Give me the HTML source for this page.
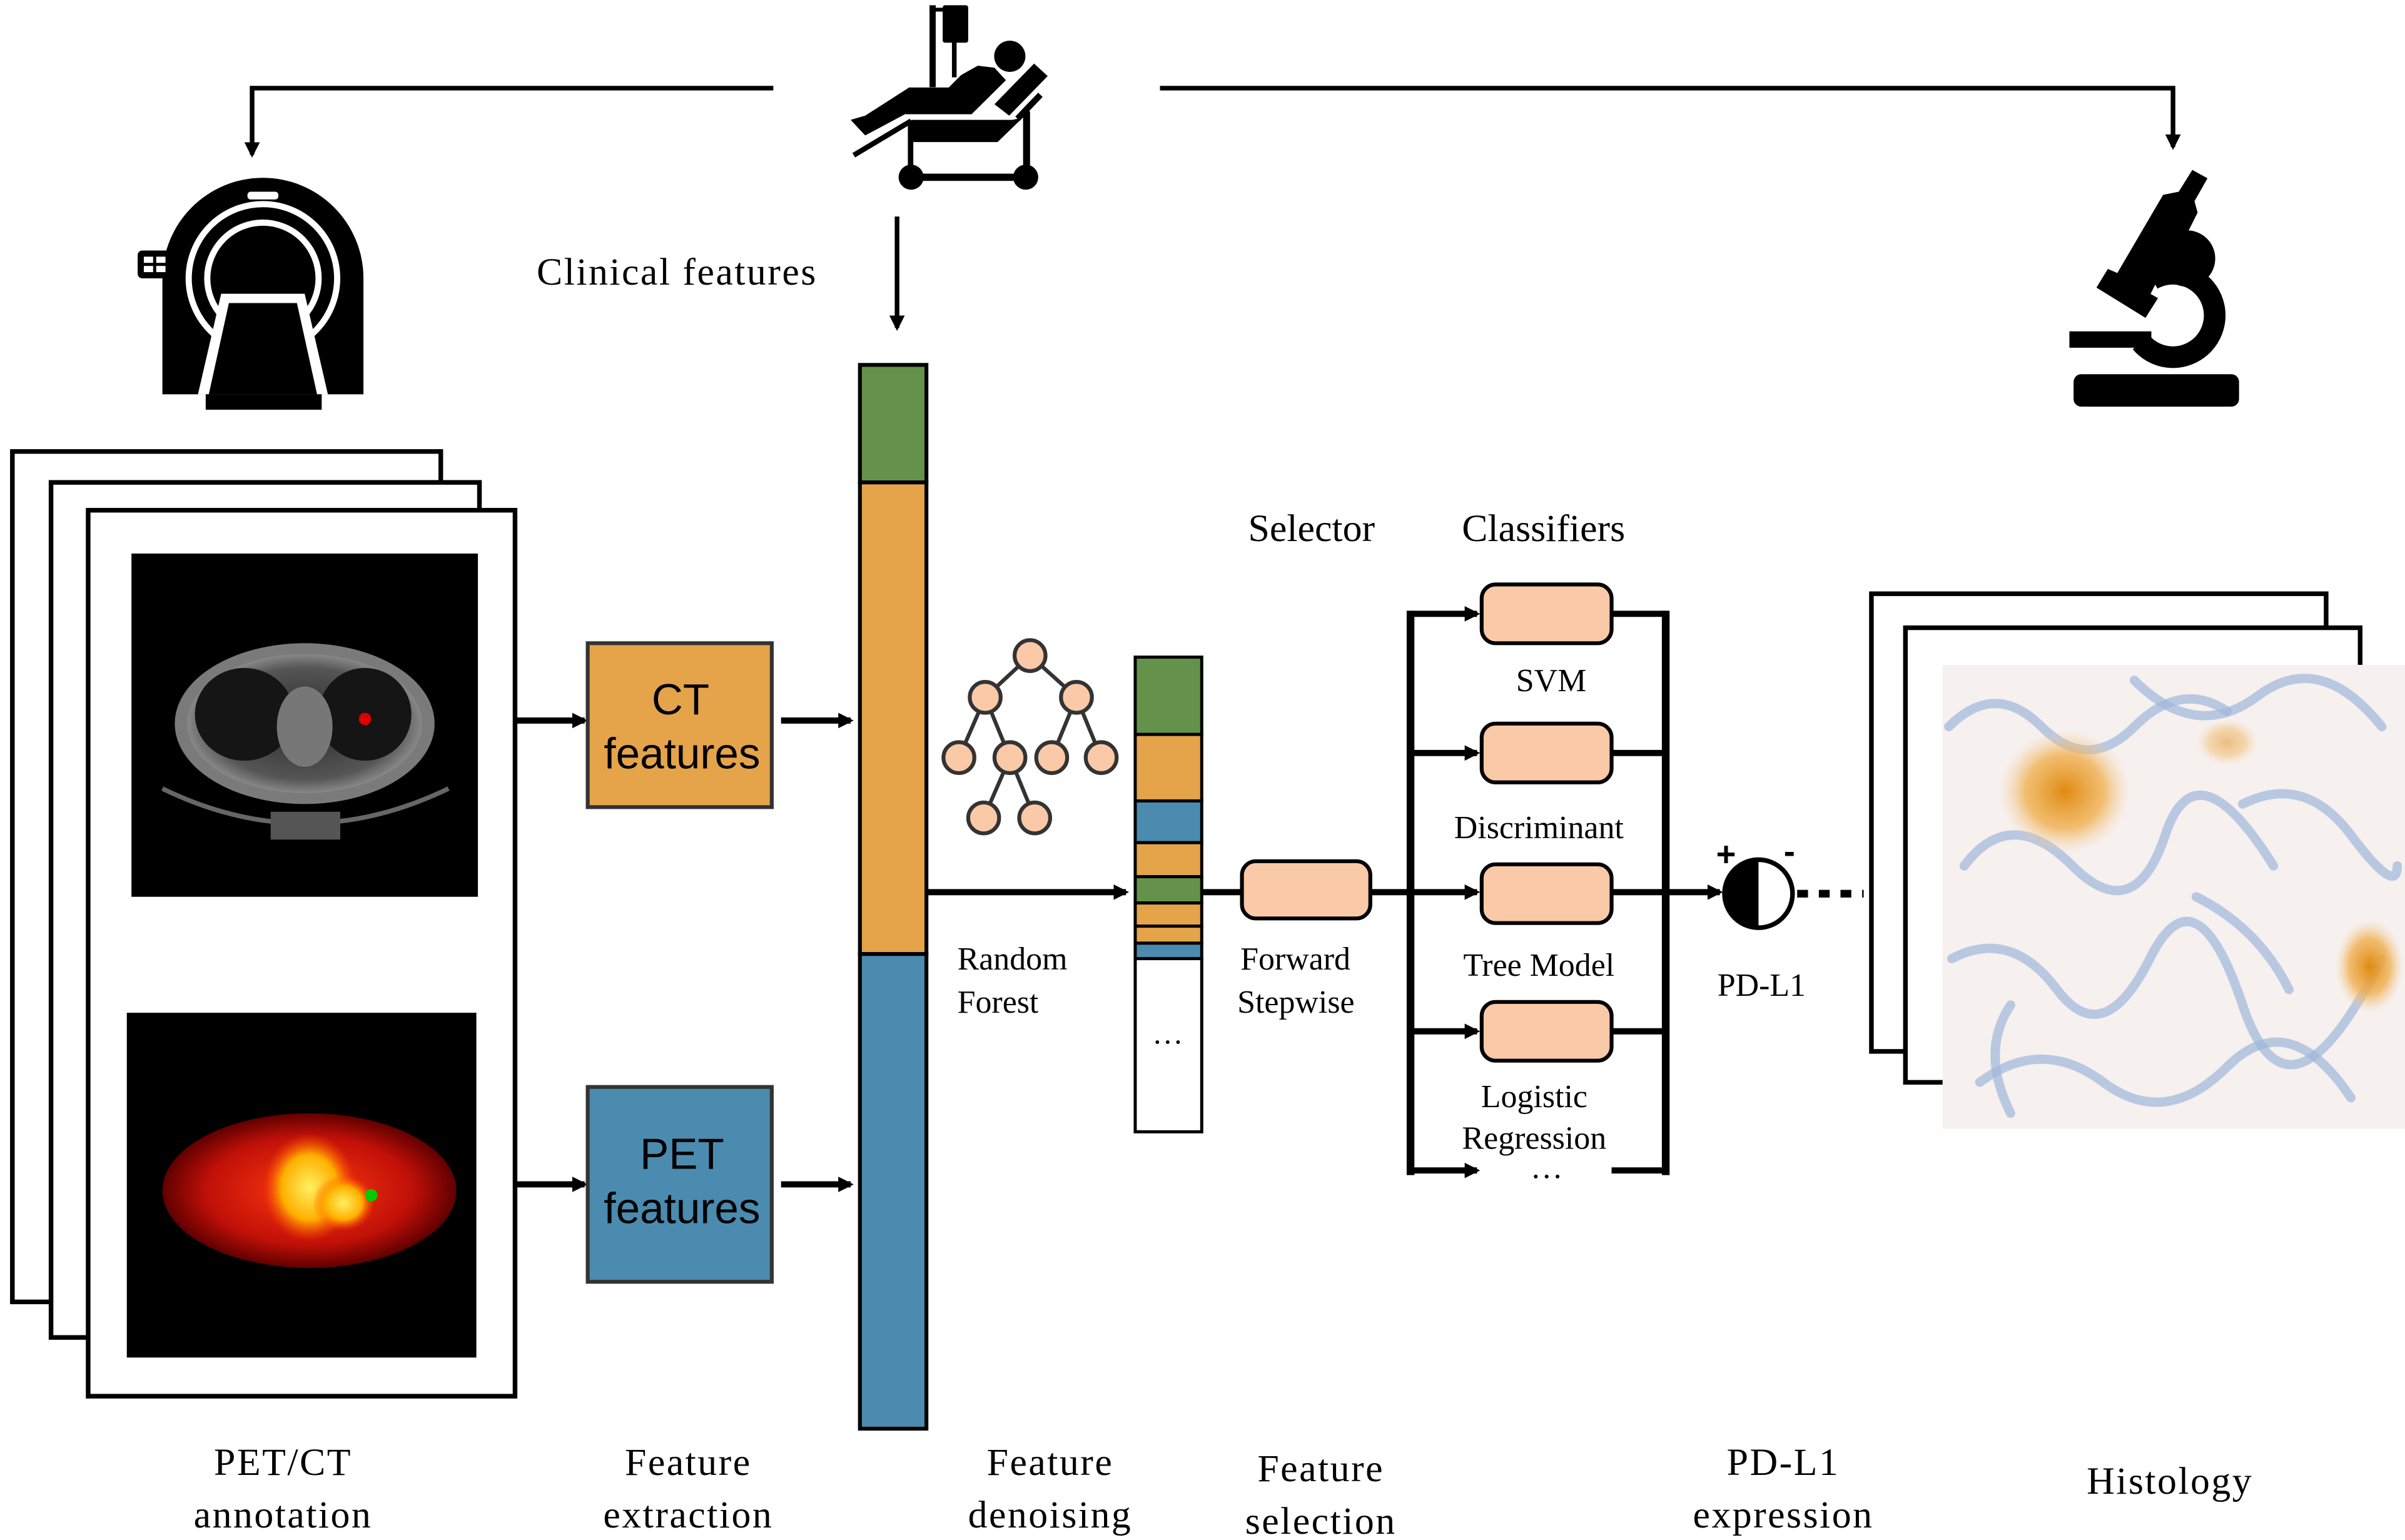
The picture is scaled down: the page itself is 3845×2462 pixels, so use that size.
<!DOCTYPE html>
<html><head><meta charset="utf-8"><style>
html,body{margin:0;padding:0;background:#fff;}
svg{display:block;}
.serif{font-family:"Liberation Serif",serif;}
.sans{font-family:"Liberation Sans",sans-serif;}
</style></head><body>
<svg width="3845" height="2462" viewBox="0 0 1555 996" preserveAspectRatio="none" xmlns="http://www.w3.org/2000/svg">
<defs>
<marker id="ah" markerWidth="10" markerHeight="10" refX="8" refY="5" orient="auto" markerUnits="userSpaceOnUse"><path d="M0,0 L10,5 L0,10 z" fill="#000"/></marker>
<radialGradient id="pet" cx="50%" cy="50%" r="50%"><stop offset="0" stop-color="#ff3a10"/><stop offset="0.7" stop-color="#c01008"/><stop offset="1" stop-color="#600000"/></radialGradient>
<radialGradient id="yel" cx="50%" cy="50%" r="50%"><stop offset="0" stop-color="#fff060"/><stop offset="0.6" stop-color="#ffb000"/><stop offset="1" stop-color="#ff5000" stop-opacity="0"/></radialGradient>
<radialGradient id="org" cx="50%" cy="50%" r="50%"><stop offset="0" stop-color="#e08a10"/><stop offset="0.6" stop-color="#f0b050" stop-opacity="0.8"/><stop offset="1" stop-color="#f5d0a0" stop-opacity="0"/></radialGradient>
<radialGradient id="ct" cx="50%" cy="50%" r="50%"><stop offset="0" stop-color="#2a2a2a"/><stop offset="0.8" stop-color="#555"/><stop offset="1" stop-color="#888"/></radialGradient>
</defs>
<rect width="1555" height="996" fill="#fff"/>

<!-- top arrows -->
<polyline points="500,57 163,57 163,100" fill="none" stroke="#000" stroke-width="3" marker-end="url(#ah)"/>
<polyline points="750,57 1405,57 1405,95" fill="none" stroke="#000" stroke-width="3" marker-end="url(#ah)"/>
<line x1="580" y1="140" x2="580" y2="212" stroke="#000" stroke-width="3" marker-end="url(#ah)"/>
<text x="347" y="184" class="serif" font-size="25" letter-spacing="1">Clinical features</text>

<!-- patient icon -->
<g fill="#000" stroke="none">
<rect x="601" y="3.4" width="4" height="53"/>
<rect x="603" y="5" width="8" height="2.5"/>
<rect x="609.5" y="3.4" width="16.5" height="24.2" rx="1.5"/>
<rect x="615.5" y="27" width="3" height="23"/>
<circle cx="652.9" cy="36.4" r="10.1"/>
<polygon points="550,77.5 559.4,87.6 585.1,73.9 628.2,73.9 650.4,51.9 643,43.8 632.2,42.5 621.5,48.5 613.4,56.6 587.8,56.6 559.4,74.8"/>
<polygon points="643,67.4 668.6,41.1 677.4,49.2 652.5,74.8"/>
<polygon points="589.1,77.5 654.5,77.5 661.2,76.2 645,91.9 590.4,91.9 587.1,82.9"/>
<line x1="552" y1="100.4" x2="589.1" y2="78.2" stroke="#000" stroke-width="3.4"/>
<line x1="657.9" y1="76.8" x2="672.7" y2="61.3" stroke="#000" stroke-width="4"/>
<rect x="587" y="80.9" width="3.5" height="30"/>
<rect x="661.5" y="72" width="4.5" height="39"/>
<rect x="589" y="112.3" width="74" height="4.7"/>
<circle cx="589.1" cy="114.6" r="8.1"/>
<circle cx="663.2" cy="114.6" r="8.1"/>
</g>

<!-- scanner icon -->
<g>
<path d="M105,255 L105,180 A65,65 0 0 1 235,180 L235,255 Z" fill="#000"/>
<circle cx="170" cy="180" r="48" fill="none" stroke="#fff" stroke-width="4"/>
<circle cx="170" cy="180" r="36" fill="none" stroke="#fff" stroke-width="4"/>
<path d="M143,190 L197,190 L212,255 L128,255 Z" fill="#fff"/>
<path d="M148,196 L192,196 L205,255 L135,255 Z" fill="#000"/>
<rect x="133" y="255" width="75" height="10" fill="#000"/>
<rect x="160" y="124" width="20" height="5" rx="2" fill="#fff"/>
<rect x="89" y="162" width="24" height="18" rx="3" fill="#000"/>
<rect x="93" y="166" width="6" height="4" fill="#fff"/><rect x="101" y="166" width="6" height="4" fill="#fff"/>
<rect x="93" y="172" width="6" height="4" fill="#fff"/><rect x="101" y="172" width="6" height="4" fill="#fff"/>
</g>

<!-- microscope -->
<g fill="#000">
<rect x="1340.7" y="242" width="107" height="21" rx="5"/>
<rect x="1338" y="214.3" width="53" height="10.6"/>
<path d="M1391.5,180.6 A27,27 0 1 1 1384.3,221.4" fill="none" stroke="#000" stroke-width="14"/>
<circle cx="1414.1" cy="167.2" r="18.2"/>
<polygon points="1355.5,186 1362.9,173.9 1369,176.6 1398.6,126 1408.7,124 1417.5,109.9 1427.3,115.3 1418.9,130.1 1420.9,137.5 1415.5,148.3 1396.6,177.9 1390.5,190.1 1395.3,192.8 1387.2,205.6"/>
</g>

<!-- PET/CT frames -->
<rect x="8" y="292" width="277" height="550" fill="#fff" stroke="#000" stroke-width="3"/>
<rect x="33" y="312" width="277" height="553" fill="#fff" stroke="#000" stroke-width="3"/>
<rect x="57" y="330" width="276" height="573" fill="#fff" stroke="#000" stroke-width="3"/>
<rect x="85" y="358" width="224" height="222" fill="#000"/>
<ellipse cx="197" cy="468" rx="84" ry="52" fill="#7a7a7a"/>
<ellipse cx="197" cy="468" rx="76" ry="45" fill="url(#ct)"/>
<ellipse cx="158" cy="462" rx="32" ry="30" fill="#151515"/>
<ellipse cx="236" cy="462" rx="30" ry="30" fill="#151515"/>
<ellipse cx="197" cy="470" rx="18" ry="26" fill="#777"/>
<circle cx="236" cy="465" r="4" fill="#d00"/>
<path d="M105,510 Q197,555 290,510" fill="none" stroke="#666" stroke-width="3"/>
<rect x="175" y="525" width="45" height="18" fill="#555"/>
<rect x="82" y="655" width="226" height="223" fill="#000"/>
<ellipse cx="200" cy="770" rx="95" ry="50" fill="url(#pet)"/>
<ellipse cx="200" cy="768" rx="30" ry="35" fill="url(#yel)"/>
<ellipse cx="222" cy="778" rx="20" ry="18" fill="url(#yel)"/>
<circle cx="240" cy="773" r="4" fill="#0c0"/>

<!-- feature boxes -->
<line x1="333" y1="466" x2="378" y2="466" stroke="#000" stroke-width="4" marker-end="url(#ah)"/>
<rect x="380" y="416" width="119" height="106" fill="#E5A44A" stroke="#333" stroke-width="2.5"/>
<text x="440" y="462" text-anchor="middle" class="sans" font-size="28">CT</text>
<text x="441" y="497" text-anchor="middle" class="sans" font-size="28">features</text>
<line x1="505" y1="466" x2="550" y2="466" stroke="#000" stroke-width="4" marker-end="url(#ah)"/>
<line x1="333" y1="766" x2="378" y2="766" stroke="#000" stroke-width="4" marker-end="url(#ah)"/>
<rect x="380" y="703" width="119" height="126" fill="#4A8BAF" stroke="#333" stroke-width="2.5"/>
<text x="441" y="756" text-anchor="middle" class="sans" font-size="28">PET</text>
<text x="441" y="791" text-anchor="middle" class="sans" font-size="28">features</text>
<line x1="505" y1="766" x2="550" y2="766" stroke="#000" stroke-width="4" marker-end="url(#ah)"/>

<!-- big column -->
<rect x="556" y="236" width="43" height="76" fill="#64924A" stroke="#000" stroke-width="2.5"/>
<rect x="556" y="312" width="43" height="305" fill="#E5A44A" stroke="#000" stroke-width="2.5"/>
<rect x="556" y="617" width="43" height="307" fill="#4A8BAF" stroke="#000" stroke-width="2.5"/>
<line x1="599" y1="577" x2="728" y2="577" stroke="#000" stroke-width="4" marker-end="url(#ah)"/>

<!-- tree -->
<g stroke="#333" stroke-width="2.5" fill="#F9C9A8">
<line x1="666" y1="424" x2="637" y2="451"/><line x1="666" y1="424" x2="696" y2="451"/>
<line x1="637" y1="451" x2="620" y2="490"/><line x1="637" y1="451" x2="653" y2="490"/>
<line x1="696" y1="451" x2="680" y2="490"/><line x1="696" y1="451" x2="712" y2="490"/>
<line x1="653" y1="490" x2="636" y2="529"/><line x1="653" y1="490" x2="669" y2="529"/>
<circle cx="666" cy="424" r="10"/><circle cx="637" cy="451" r="10"/><circle cx="696" cy="451" r="10"/>
<circle cx="620" cy="490" r="10"/><circle cx="653" cy="490" r="10"/><circle cx="680" cy="490" r="10"/><circle cx="712" cy="490" r="10"/>
<circle cx="636" cy="529" r="10"/><circle cx="669" cy="529" r="10"/>
</g>
<text x="619" y="627" class="serif" font-size="21">Random</text>
<text x="619" y="655" class="serif" font-size="21">Forest</text>

<!-- small column -->
<g stroke="#000" stroke-width="2">
<rect x="734" y="425" width="43" height="50" fill="#64924A"/>
<rect x="734" y="475" width="43" height="43" fill="#E5A44A"/>
<rect x="734" y="518" width="43" height="27" fill="#4A8BAF"/>
<rect x="734" y="545" width="43" height="22" fill="#E5A44A"/>
<rect x="734" y="567" width="43" height="17" fill="#64924A"/>
<rect x="734" y="584" width="43" height="15" fill="#E5A44A"/>
<rect x="734" y="599" width="43" height="11" fill="#E5A44A"/>
<rect x="734" y="610" width="43" height="10" fill="#4A8BAF"/>
<rect x="734" y="620" width="43" height="112" fill="#fff"/>
</g>
<text x="755" y="675" text-anchor="middle" class="serif" font-size="20">…</text>

<line x1="777" y1="577" x2="803" y2="577" stroke="#000" stroke-width="4"/>
<rect x="803" y="557" width="83" height="37" rx="9" fill="#F9C9A8" stroke="#000" stroke-width="2.5"/>
<text x="802" y="627" class="serif" font-size="21">Forward</text>
<text x="800" y="655" class="serif" font-size="21">Stepwise</text>
<line x1="886" y1="577" x2="912" y2="577" stroke="#000" stroke-width="4"/>

<text x="848" y="350" text-anchor="middle" class="serif" font-size="25">Selector</text>
<text x="998" y="350" text-anchor="middle" class="serif" font-size="25">Classifiers</text>

<!-- classifiers -->
<line x1="912" y1="395" x2="912" y2="760" stroke="#000" stroke-width="5"/>
<line x1="1077" y1="395" x2="1077" y2="760" stroke="#000" stroke-width="5"/>
<g stroke="#000" stroke-width="4">
<line x1="912" y1="397" x2="955" y2="397" marker-end="url(#ah)"/>
<line x1="912" y1="487" x2="955" y2="487" marker-end="url(#ah)"/>
<line x1="912" y1="577" x2="955" y2="577" marker-end="url(#ah)"/>
<line x1="912" y1="667" x2="955" y2="667" marker-end="url(#ah)"/>
<line x1="912" y1="757" x2="955" y2="757" marker-end="url(#ah)"/>
<line x1="1042" y1="397" x2="1077" y2="397"/>
<line x1="1042" y1="487" x2="1077" y2="487"/>
<line x1="1042" y1="577" x2="1077" y2="577"/>
<line x1="1042" y1="667" x2="1077" y2="667"/>
<line x1="1042" y1="757" x2="1077" y2="757"/>
</g>
<g fill="#F9C9A8" stroke="#000" stroke-width="2.5">
<rect x="958" y="378" width="84" height="38" rx="9"/>
<rect x="958" y="468" width="84" height="38" rx="9"/>
<rect x="958" y="559" width="84" height="38" rx="9"/>
<rect x="958" y="648" width="84" height="38" rx="9"/>
</g>
<g class="serif" font-size="21" text-anchor="middle">
<text x="1003" y="447">SVM</text>
<text x="995" y="542">Discriminant</text>
<text x="995" y="631">Tree Model</text>
<text x="992" y="716">Logistic</text>
<text x="992" y="743">Regression</text>
<text x="1000" y="762">…</text>
</g>

<!-- PD-L1 -->
<line x1="1077" y1="577" x2="1112" y2="577" stroke="#000" stroke-width="4" marker-end="url(#ah)"/>
<circle cx="1137" cy="578" r="22" fill="#fff" stroke="#000" stroke-width="3"/>
<path d="M1137,556 A22,22 0 0 0 1137,600 Z" fill="#000"/>
<text x="1116" y="560" text-anchor="middle" class="sans" font-size="22" font-weight="bold">+</text>
<text x="1157" y="558" text-anchor="middle" class="sans" font-size="22" font-weight="bold">-</text>
<line x1="1162" y1="578" x2="1205" y2="578" stroke="#000" stroke-width="5" stroke-dasharray="7,7"/>
<text x="1139" y="644" text-anchor="middle" class="serif" font-size="21">PD-L1</text>

<!-- histology -->
<rect x="1210" y="384" width="294" height="296" fill="#fff" stroke="#000" stroke-width="3"/>
<rect x="1232" y="406" width="294" height="294" fill="#fff" stroke="#000" stroke-width="3"/>
<rect x="1256" y="430" width="299" height="300" fill="#f6f0ee"/>
<g fill="none" stroke="#9fb6dc" stroke-width="6" stroke-opacity="0.7" stroke-linecap="round">
<path d="M1260,470 Q1290,440 1320,470 T1380,470 T1440,460"/>
<path d="M1270,560 Q1300,520 1340,560 T1400,540 T1470,560"/>
<path d="M1262,620 Q1300,600 1330,640 T1390,620 T1450,650 T1540,620"/>
<path d="M1280,700 Q1320,670 1360,700 T1440,690 T1520,710"/>
<path d="M1380,440 Q1420,480 1460,450 T1540,470"/>
<path d="M1450,520 Q1490,500 1520,540 T1550,560"/>
<path d="M1300,650 Q1280,680 1300,720"/>
<path d="M1420,580 Q1460,600 1480,640"/>
</g>
<ellipse cx="1335" cy="512" rx="42" ry="40" fill="url(#org)"/>
<ellipse cx="1532" cy="625" rx="22" ry="30" fill="url(#org)"/>
<ellipse cx="1440" cy="480" rx="20" ry="15" fill="url(#org)" opacity="0.5"/>

<!-- bottom labels -->
<g class="serif" font-size="25" text-anchor="middle" letter-spacing="1">
<text x="183" y="954">PET/CT</text><text x="183" y="988">annotation</text>
<text x="445" y="954">Feature</text><text x="445" y="988">extraction</text>
<text x="679" y="954">Feature</text><text x="679" y="988">denoising</text>
<text x="854" y="958">Feature</text><text x="854" y="992">selection</text>
<text x="1153" y="954">PD-L1</text><text x="1153" y="988">expression</text>
<text x="1403" y="966">Histology</text>
</g>
</svg>
</body></html>
